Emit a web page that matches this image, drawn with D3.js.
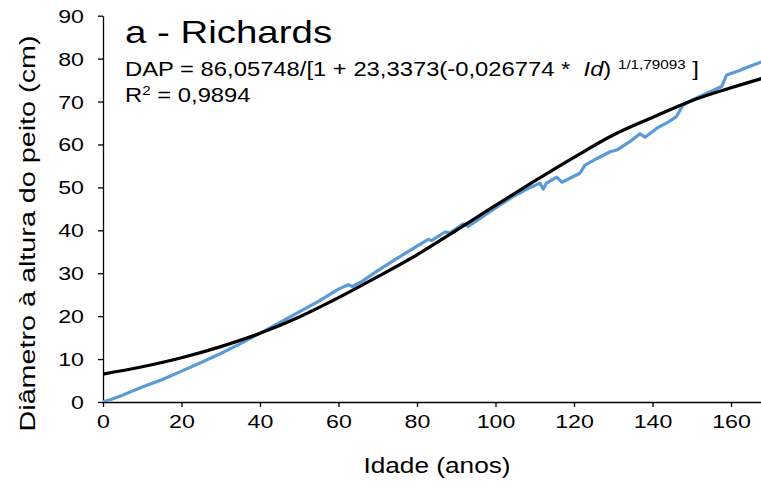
<!DOCTYPE html>
<html><head><meta charset="utf-8">
<script src="https://cdn.jsdelivr.net/npm/d3@7/dist/d3.min.js"></script>
<style>
html,body{margin:0;padding:0;background:#fff;}
svg{display:block;font-family:"Liberation Sans",Arial,sans-serif;}
</style></head>
<body><svg id="chart" width="761" height="488"></svg>
<script>
// ---- data ----
const xTicks = [0, 20, 40, 60, 80, 100, 120, 140, 160];
const yTicks = [0, 10, 20, 30, 40, 50, 60, 70, 80, 90];
// observed DAP (blue)
const obsAge = [0, 2, 5, 10, 15, 20, 25, 30, 35, 40, 45, 50, 55, 60, 62.5, 63.5, 66, 70, 75, 80, 82.9, 83.7, 87.1, 88.4, 91.8, 93, 96, 100, 104, 108, 111.3, 112.2, 113, 115.6, 116.9, 121.5, 122.8, 126, 129.2, 130.9, 134.3, 136.8, 138.1, 141.1, 144, 146.1, 147.8, 150, 154, 157.6, 158.9, 162, 165, 168];
const obsDap = [0, 0.6, 1.6, 3.5, 5.2, 7.2, 9.2, 11.3, 13.6, 16.0, 18.5, 21.0, 23.5, 26.3, 27.3, 26.9, 28.1, 30.6, 33.5, 36.3, 37.9, 37.6, 39.6, 39.4, 41.5, 40.9, 42.7, 45.2, 47.6, 49.6, 51.0, 49.6, 51.0, 52.4, 51.2, 53.3, 55.2, 56.8, 58.3, 58.7, 60.7, 62.5, 61.7, 63.8, 65.2, 66.5, 69.2, 70.3, 72.0, 73.5, 76.2, 77.2, 78.3, 79.3];
// Richards fit (black)
const fitAge = [0, 10, 20, 30, 40, 50, 60, 70, 80, 90, 100, 110, 120, 130, 140, 150, 160, 168];
const fitDap = [6.5, 8.2, 10.3, 12.9, 16.0, 19.8, 24.3, 29.2, 34.3, 40.0, 45.8, 51.5, 57.0, 62.2, 66.3, 70.2, 73.2, 75.4];

const title = "a - Richards";
const xTitle = "Idade (anos)";
const yTitle = "Diâmetro à altura do peito (cm)";

// ---- drawing ----
const SX = 1.22; // horizontal text stretch of the reference
const svg = d3.select("#chart");
const x = d3.scaleLinear().domain([0, 168]).range([103, 103 + 168 * 3.925]);
const y = d3.scaleLinear().domain([0, 90]).range([402, 15.7]);

function stretch(sel, anchorX) {
  sel.each(function () {
    const t = d3.select(this);
    const tx = +t.attr("x") || 0;
    const ty = +t.attr("y") || 0;
    t.attr("x", 0).attr("y", 0)
     .attr("transform", `translate(${tx},${ty}) scale(${SX},1)`);
  });
}

// axes
const yAxis = d3.axisLeft(y).tickValues(yTicks).tickSize(5).tickSizeOuter(0).tickPadding(14);
const gy = svg.append("g").attr("transform", `translate(${x(0)},0)`).call(yAxis);
const xAxis = d3.axisBottom(x).tickValues(xTicks).tickSize(5).tickSizeOuter(0).tickPadding(8);
const gx = svg.append("g").attr("transform", `translate(0,${y(0)})`).call(xAxis);
[gx, gy].forEach(g => {
  g.selectAll("path.domain").attr("stroke", "#000").attr("stroke-width", 1.3);
  g.selectAll(".tick line").attr("stroke", "#000").attr("stroke-width", 1.3);
  g.selectAll(".tick text").attr("font-family", "Liberation Sans, Arial, sans-serif")
    .attr("font-size", 19).attr("fill", "#000");
});
gx.selectAll(".tick text").each(function(){ const t=d3.select(this); t.attr("y", +t.attr("y") + 0.71*19).attr("dy", null); });
gy.selectAll(".tick text").each(function(){ const t=d3.select(this); t.attr("y", 0.34*19).attr("dy", null); });
stretch(gx.selectAll(".tick text"));
stretch(gy.selectAll(".tick text"));

// lines
const clip = svg.append("clipPath").attr("id", "clip").append("rect")
  .attr("x", x(0)).attr("y", 0).attr("width", 761 - x(0)).attr("height", y(0));
const obs = obsAge.map((a, i) => [a, obsDap[i]]);
const fit = fitAge.map((a, i) => [a, fitDap[i]]);
svg.append("path").datum(obs).attr("clip-path", "url(#clip)")
  .attr("fill", "none").attr("stroke", "#5B9BD5").attr("stroke-width", 3.2)
  .attr("stroke-linejoin", "round")
  .attr("d", d3.line().x(d => x(d[0])).y(d => y(d[1])));
svg.append("path").datum(fit)
  .attr("fill", "none").attr("stroke", "#000").attr("stroke-width", 3.2)
  .attr("d", d3.line().curve(d3.curveMonotoneX).x(d => x(d[0])).y(d => y(d[1])));

// titles
const tt = svg.append("text").attr("font-size", 31.5).attr("fill", "#000")
  .attr("transform", `translate(125,43.3) scale(${SX},1)`).text(title);

const eq = svg.append("text").attr("font-size", 19.5).attr("fill", "#000")
  .attr("transform", `translate(125,76) scale(${SX},1)`).attr("xml:space", "preserve");
eq.append("tspan").text("DAP = 86,05748/[1 + 23,3373(-0,026774 *  ");
eq.append("tspan").attr("font-style", "italic").text("Id");
eq.append("tspan").text(") ");
eq.append("tspan").attr("font-size", 12.5).attr("dy", -7).text("1/1,79093");
eq.append("tspan").attr("dy", 7).text(" ]");

const r2 = svg.append("text").attr("font-size", 19.5).attr("fill", "#000")
  .attr("transform", `translate(125,102) scale(${SX},1)`);
r2.append("tspan").text("R");
r2.append("tspan").attr("font-size", 12.5).attr("dy", -7).text("2");
r2.append("tspan").attr("dy", 7).text(" = 0,9894");

svg.append("text").attr("font-size", 21.5).attr("fill", "#000").attr("text-anchor", "middle")
  .attr("transform", `translate(437,473) scale(${SX},1)`).text(xTitle);

svg.append("text").attr("font-size", 21.5).attr("fill", "#000").attr("text-anchor", "middle")
  .attr("textLength", 396).attr("lengthAdjust", "spacingAndGlyphs")
  .attr("transform", `translate(35,233.5) rotate(-90)`).text(yTitle);
</script></body></html>
